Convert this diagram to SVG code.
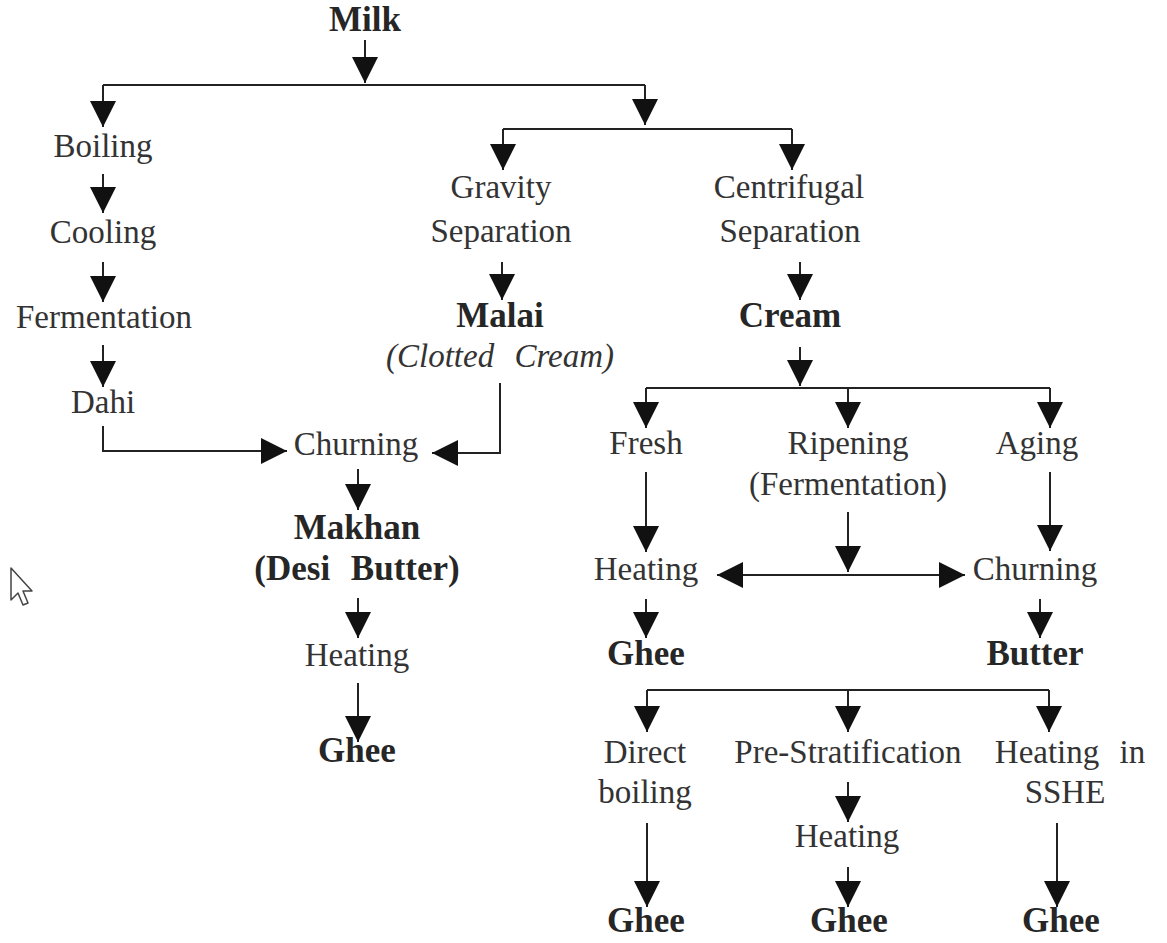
<svg xmlns="http://www.w3.org/2000/svg" width="1167" height="943" viewBox="0 0 1167 943">
<defs>
<style>
.t{font-family:"Liberation Serif","Times New Roman",serif;font-size:33px;fill:#333;text-anchor:middle}
.b{font-weight:bold;font-size:35px;fill:#262626}
.i{font-style:italic;word-spacing:12px}
.ws{word-spacing:12px}
.c path{fill:none;stroke:#222;stroke-width:2}
</style>
<marker id="ah" markerUnits="userSpaceOnUse" markerWidth="26" markerHeight="26" refX="24" refY="12" orient="auto-start-reverse" viewBox="0 0 24 24">
<path d="M0,0 L24,12 L0,24 Z" fill="#111"/>
</marker>
</defs>
<rect width="1167" height="943" fill="#fff"/>
<g id="connectors" class="c">
<path d="M365,40 V83" marker-end="url(#ah)"/>
<path d="M103,85 H645"/>
<path d="M103,85 V127" marker-end="url(#ah)"/>
<path d="M645,85 V125" marker-end="url(#ah)"/>
<path d="M503,129 H792"/>
<path d="M503,129 V170" marker-end="url(#ah)"/>
<path d="M792,129 V170" marker-end="url(#ah)"/>
<path d="M103,174 V213" marker-end="url(#ah)"/>
<path d="M103,262 V302" marker-end="url(#ah)"/>
<path d="M103,345 V387" marker-end="url(#ah)"/>
<path d="M103,426 V451 H287" marker-end="url(#ah)"/>
<path d="M500,383 V453 H432" marker-end="url(#ah)"/>
<path d="M358,469 V510" marker-end="url(#ah)"/>
<path d="M358,598 V638" marker-end="url(#ah)"/>
<path d="M358,683 V742" marker-end="url(#ah)"/>
<path d="M502,262 V300" marker-end="url(#ah)"/>
<path d="M800,262 V300" marker-end="url(#ah)"/>
<path d="M800,347 V386" marker-end="url(#ah)"/>
<path d="M646,388 H1050"/>
<path d="M646,388 V428" marker-end="url(#ah)"/>
<path d="M848,388 V428" marker-end="url(#ah)"/>
<path d="M1050,388 V428" marker-end="url(#ah)"/>
<path d="M646,472 V552" marker-end="url(#ah)"/>
<path d="M848,512 V572" marker-end="url(#ah)"/>
<path d="M1050,472 V551" marker-end="url(#ah)"/>
<path d="M717,575 H965" marker-start="url(#ah)" marker-end="url(#ah)"/>
<path d="M646,599 V638" marker-end="url(#ah)"/>
<path d="M1040,599 V638" marker-end="url(#ah)"/>
<path d="M647,690 H1049"/>
<path d="M647,690 V732" marker-end="url(#ah)"/>
<path d="M848,690 V732" marker-end="url(#ah)"/>
<path d="M1049,690 V732" marker-end="url(#ah)"/>
<path d="M848,782 V822" marker-end="url(#ah)"/>
<path d="M848,867 V907" marker-end="url(#ah)"/>
<path d="M647,823 V907" marker-end="url(#ah)"/>
<path d="M1057,823 V907" marker-end="url(#ah)"/>
</g>
<g id="milk"><text class="t b" x="365" y="31">Milk</text></g>
<g id="boiling"><text class="t" x="103" y="157">Boiling</text></g>
<g id="cooling"><text class="t" x="103" y="243">Cooling</text></g>
<g id="fermentation"><text class="t" x="104" y="328">Fermentation</text></g>
<g id="dahi"><text class="t" x="103" y="413">Dahi</text></g>
<g id="gravity"><text class="t" x="501" y="198">Gravity</text><text class="t" x="501" y="242">Separation</text></g>
<g id="centrifugal"><text class="t" x="789" y="198">Centrifugal</text><text class="t" x="790" y="242">Separation</text></g>
<g id="malai"><text class="t b" x="500" y="327">Malai</text><text class="t i" x="500" y="367">(Clotted Cream)</text></g>
<g id="cream"><text class="t b" x="790" y="327">Cream</text></g>
<g id="churning1"><text class="t" x="356" y="455">Churning</text></g>
<g id="makhan"><text class="t b" x="357" y="539">Makhan</text><text class="t b ws" x="357" y="580">(Desi Butter)</text></g>
<g id="heating1"><text class="t" x="357" y="666">Heating</text></g>
<g id="ghee1"><text class="t b" x="357" y="762">Ghee</text></g>
<g id="fresh"><text class="t" x="646" y="454">Fresh</text></g>
<g id="ripening"><text class="t" x="848" y="454">Ripening</text><text class="t" x="848" y="495">(Fermentation)</text></g>
<g id="aging"><text class="t" x="1037" y="454">Aging</text></g>
<g id="heating2"><text class="t" x="646" y="580">Heating</text></g>
<g id="churning2"><text class="t" x="1035" y="580">Churning</text></g>
<g id="ghee2"><text class="t b" x="646" y="665">Ghee</text></g>
<g id="butter"><text class="t b" x="1035" y="665">Butter</text></g>
<g id="direct"><text class="t" x="645" y="763">Direct</text><text class="t" x="645" y="803">boiling</text></g>
<g id="prestrat"><text class="t" x="848" y="763">Pre-Stratification</text></g>
<g id="sshe"><text class="t ws" x="1070" y="763">Heating in</text><text class="t" x="1065" y="803">SSHE</text></g>
<g id="heating3"><text class="t" x="847" y="847">Heating</text></g>
<g id="ghee3"><text class="t b" x="646" y="932">Ghee</text></g>
<g id="ghee4"><text class="t b" x="849" y="932">Ghee</text></g>
<g id="ghee5"><text class="t b" x="1061" y="932">Ghee</text></g>
<path d="M11,568 L11,600 L18,593 L23,605 L28,603 L23,591 L32,591 Z" fill="#fff" stroke="#444" stroke-width="1.5" stroke-linejoin="round"/>
</svg>
